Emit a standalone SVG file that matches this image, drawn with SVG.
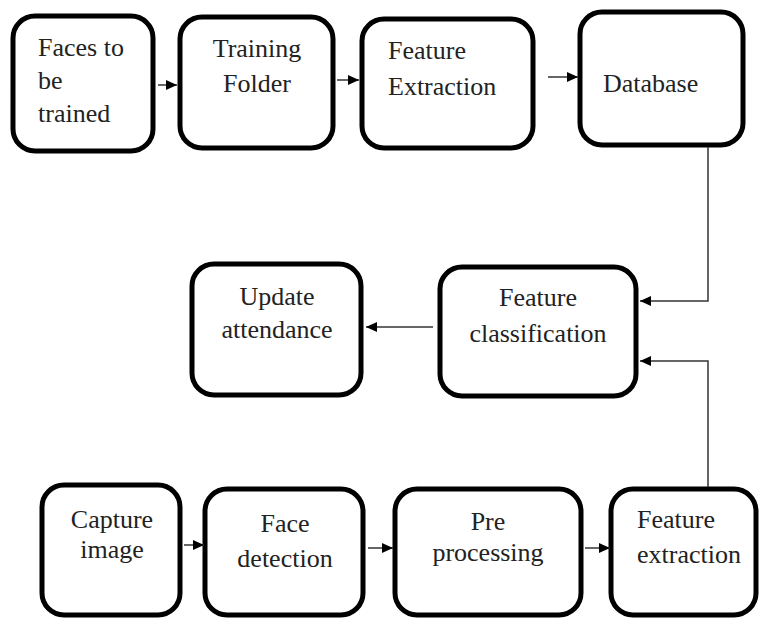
<svg xmlns="http://www.w3.org/2000/svg" width="760" height="621" viewBox="0 0 760 621">
<style>
.box{fill:#fff;stroke:#000;stroke-width:5}
.t{font-size:26px;fill:#222}
.c{text-anchor:middle}
.ln{fill:none;stroke:#333;stroke-width:1.5}
</style>
<defs>
<marker id="ah" markerUnits="userSpaceOnUse" markerWidth="12" markerHeight="10" refX="11" refY="5" orient="auto">
<path d="M0,0 L11,5 L0,10 Z" fill="#000"/>
</marker>
</defs>
<rect width="760" height="621" fill="#fff"/>
<g font-family="Liberation Serif, DejaVu Serif, serif">
<g id="n1"><rect class="box" x="13" y="16" width="140" height="135" rx="22"/>
<text class="t" x="38" y="56">Faces to</text><text class="t" x="38" y="89">be</text><text class="t" x="38" y="122">trained</text></g>
<g id="n2"><rect class="box" x="180" y="17" width="153" height="131" rx="22"/>
<text class="t c" x="257" y="57">Training</text><text class="t c" x="257" y="92">Folder</text></g>
<g id="n3"><rect class="box" x="362" y="19" width="171" height="129" rx="22"/>
<text class="t" x="388" y="59">Feature</text><text class="t" x="388" y="95">Extraction</text></g>
<g id="n4"><rect class="box" x="580" y="12" width="163" height="133" rx="22"/>
<text class="t" x="603" y="92">Database</text></g>
<g id="n5"><rect class="box" x="192" y="264" width="169" height="131" rx="22"/>
<text class="t c" x="277" y="305">Update</text><text class="t c" x="277" y="338">attendance</text></g>
<g id="n6"><rect class="box" x="440" y="267" width="196" height="129" rx="22"/>
<text class="t c" x="538" y="306">Feature</text><text class="t c" x="538" y="342">classification</text></g>
<g id="n7"><rect class="box" x="42" y="485" width="138" height="130" rx="22"/>
<text class="t c" x="112" y="528">Capture</text><text class="t c" x="112" y="558">image</text></g>
<g id="n8"><rect class="box" x="205" y="489" width="158" height="126" rx="22"/>
<text class="t c" x="285" y="532">Face</text><text class="t c" x="285" y="567">detection</text></g>
<g id="n9"><rect class="box" x="395" y="489" width="186" height="126" rx="22"/>
<text class="t c" x="488" y="530">Pre</text><text class="t c" x="488" y="561">processing</text></g>
<g id="n10"><rect class="box" x="611" y="489" width="145" height="126" rx="22"/>
<text class="t" x="637" y="528">Feature</text><text class="t" x="637" y="563">extraction</text></g>
</g>
<g id="connectors">
<path class="ln" d="M158,85 H177" marker-end="url(#ah)"/>
<path class="ln" d="M337,80 H359" marker-end="url(#ah)"/>
<path class="ln" d="M548,77 H578" marker-end="url(#ah)"/>
<path class="ln" d="M433,327 H366" marker-end="url(#ah)"/>
<path class="ln" d="M708,147 V301 H640" marker-end="url(#ah)"/>
<path class="ln" d="M708,487 V361 H640" marker-end="url(#ah)"/>
<path class="ln" d="M184,545 H204" marker-end="url(#ah)"/>
<path class="ln" d="M368,548 H393" marker-end="url(#ah)"/>
<path class="ln" d="M585,548 H610" marker-end="url(#ah)"/>
</g>
</svg>
